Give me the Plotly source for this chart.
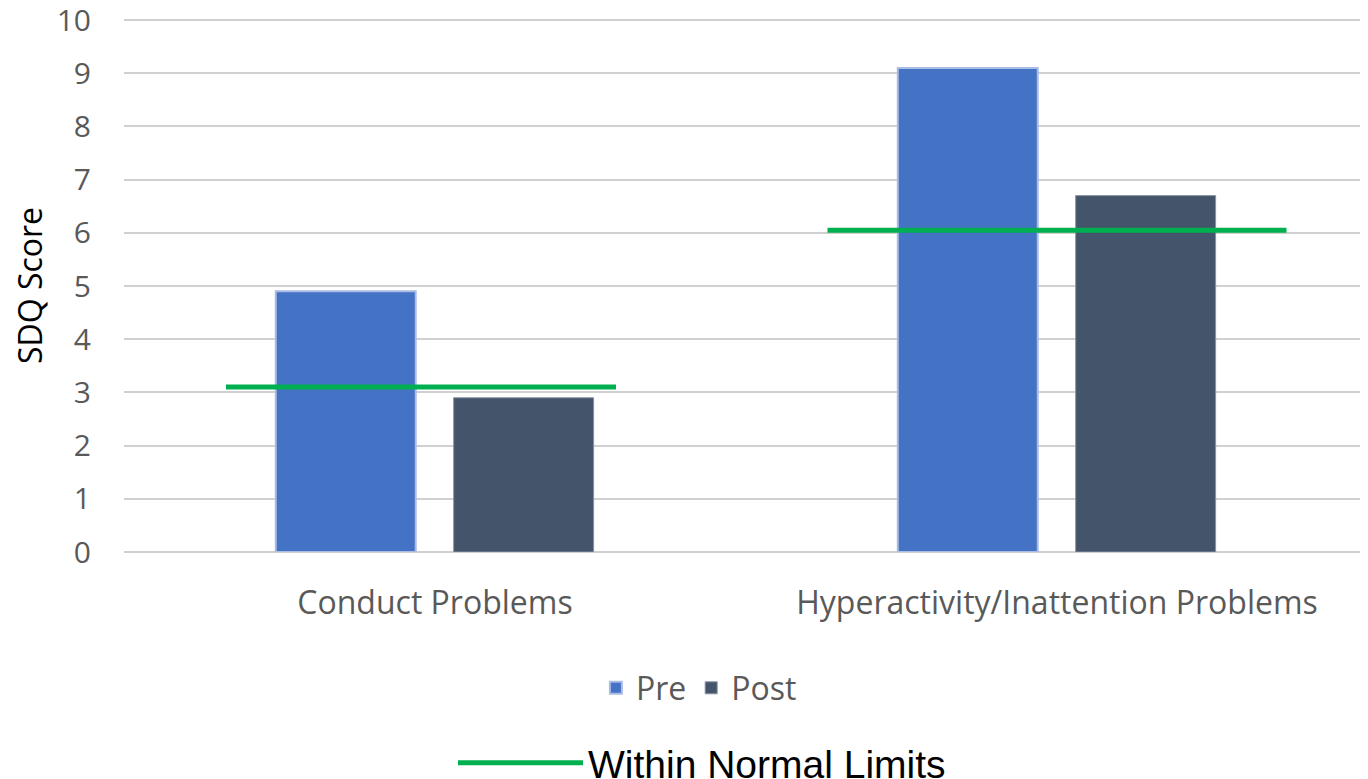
import plotly.graph_objects as go

categories = ["Conduct Problems", "Hyperactivity/Inattention Problems"]
pre_values = [4.9, 9.1]
post_values = [2.9, 6.7]
normal_limits = [3.1, 6.05]
y_ticks = [0, 1, 2, 3, 4, 5, 6, 7, 8, 9, 10]

# style constants (relative to category index)
BAR_W = 0.225
PRE_OFF = -0.256
POST_OFF = 0.030
LINE_EXT = [(-0.336, 0.291), (-0.369, 0.369)]

idx = list(range(len(categories)))
FONT = "Open Sans, Lato, sans-serif"
GRAY = "#595959"

fig = go.Figure()
fig.add_trace(go.Bar(
    x=idx, y=pre_values, name="Pre", width=BAR_W, offset=PRE_OFF,
    marker=dict(color="#4472C4", line=dict(color="#A9BCE3", width=2)),
    legend="legend",
))
fig.add_trace(go.Bar(
    x=idx, y=post_values, name="Post", width=BAR_W, offset=POST_OFF,
    marker=dict(color="#44546A", line=dict(color="#8A94A3", width=1)),
    legend="legend",
))
for i, (v, ext) in enumerate(zip(normal_limits, LINE_EXT)):
    fig.add_trace(go.Scatter(
        x=[i + ext[0], i + ext[1]], y=[v, v], mode="lines",
        line=dict(color="#00B050", width=5),
        name="Within Normal Limits", showlegend=(i == 0),
        legend="legend2", hoverinfo="skip",
    ))

# the page body adds an 8px margin, so the figure is 8px smaller each way
fig.update_layout(
    width=1360, height=771,
    margin=dict(l=116, r=0, t=11, b=227, autoexpand=False),
    paper_bgcolor="white", plot_bgcolor="white",
    font=dict(family=FONT, size=30, color=GRAY),
    xaxis=dict(
        range=[-0.5, 1.5], tickmode="array", tickvals=idx, ticktext=categories,
        showgrid=False, zeroline=False, showline=False,
        ticks="outside", ticklen=23, tickcolor="rgba(0,0,0,0)",
        tickfont=dict(family=FONT, size=32, color=GRAY),
        ticklabeloverflow="allow",
    ),
    yaxis=dict(
        range=[0, 10.02], tickmode="array", tickvals=y_ticks,
        showgrid=True, gridcolor="#D0D0D0", gridwidth=2,
        zeroline=True, zerolinecolor="#D0D0D0", zerolinewidth=2,
        showline=False,
        ticks="outside", ticklen=26, tickcolor="rgba(0,0,0,0)",
        tickfont=dict(family=FONT, size=30, color=GRAY),
        ticklabeloverflow="allow",
        title=dict(text="SDQ Score", font=dict(family=FONT, size=32, color="#000000"), standoff=9),
    ),
    legend=dict(
        orientation="h", xref="container", yref="container",
        x=0.508, y=0.118, xanchor="center", yanchor="middle",
        font=dict(family=FONT, size=32, color=GRAY),
        traceorder="normal",
    ),
    legend2=dict(
        orientation="h", xref="container", yref="container",
        x=445 / 1360, y=0.0623, xanchor="left", yanchor="top",
        font=dict(family="Liberation Sans, Arial, sans-serif", size=39, color="#000000"),
        itemwidth=125,
    ),
    showlegend=True,
)

fig.write_html("out.html")
